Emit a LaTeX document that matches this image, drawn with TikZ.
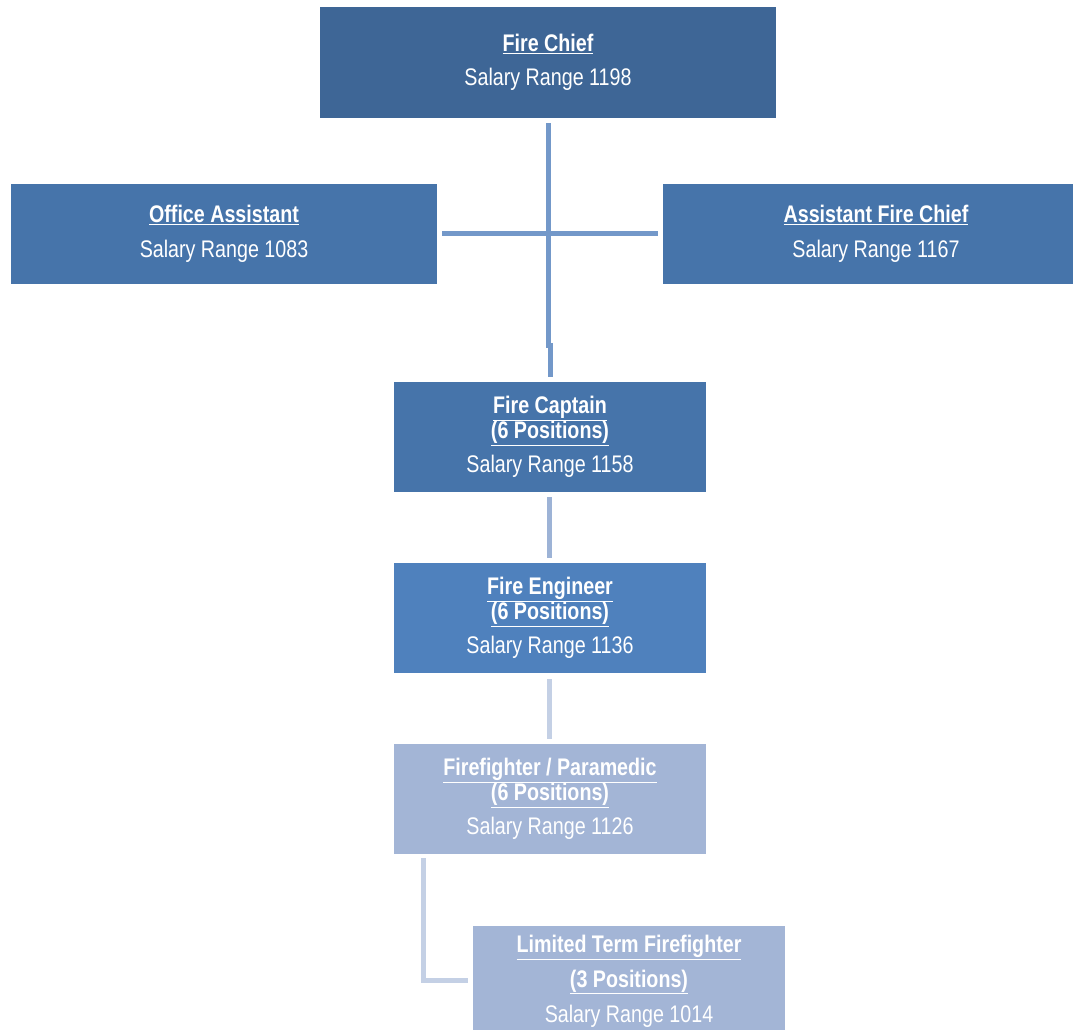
\documentclass[tikz,border=0pt]{standalone}
\usepackage{fontspec}
\setmainfont{Liberation Sans}[FakeStretch=0.82]
\usepackage{tikz}
\usetikzlibrary{calc}

\definecolor{chiefblue}{HTML}{3E6696}
\definecolor{midblue}{HTML}{4674AA}
\definecolor{engblue}{HTML}{4F81BD}
\definecolor{paleblue}{HTML}{A3B5D6}
\definecolor{lineA}{HTML}{7398C9}
\definecolor{lineB}{HTML}{9DB3D6}
\definecolor{lineC}{HTML}{C4D0E5}

\newcommand{\ttl}[1]{\textbf{\underline{#1}}}

\begin{document}
\begin{tikzpicture}[x=1pt,y=-1pt,
  box/.style={rectangle,inner sep=0pt,text=white,align=center,
    font=\fontsize{24}{25}\selectfont},
  link/.style={line width=5pt}]
				\useasboundingbox (0,0) rectangle (1073,1030);
				\clip (0,0) rectangle (1073,1030);
				
				\node[box,fill=chiefblue,minimum width=456pt,minimum height=111pt] (chief) at (548,62.5) {\ttl{Fire Chief}\\[9pt]Salary Range 1198};
				\node[box,fill=midblue,minimum width=426pt,minimum height=100pt] (office) at (224,234) {\ttl{Office Assistant}\\[10pt]Salary Range 1083};
				\node[box,fill=midblue,minimum width=426pt,minimum height=100pt] (asst) at (876,234) {\ttl{Assistant Fire Chief}\\[10pt]Salary Range 1167};
				\node[box,fill=midblue,minimum width=312pt,minimum height=110pt] (capt) at (550,437) {\ttl{Fire Captain}\\\ttl{(6 Positions)}\\[9pt]Salary Range 1158};
				\node[box,fill=engblue,minimum width=312pt,minimum height=110pt] (eng) at (550,618) {\ttl{Fire Engineer}\\\ttl{(6 Positions)}\\[9pt]Salary Range 1136};
				\node[box,fill=paleblue,minimum width=312pt,minimum height=110pt] (ff) at (550,799) {\ttl{Firefighter / Paramedic}\\\ttl{(6 Positions)}\\[9pt]Salary Range 1126};
				\node[box,fill=paleblue,minimum width=312pt,minimum height=110pt] (ltd) at (629,981) {\ttl{Limited Term Firefighter}\\[10pt]\ttl{(3 Positions)}\\[10pt]Salary Range 1014};
				
				\coordinate (bend) at (548,345);
				\draw[link,lineA] ($(chief.south)+(0,5)$)--(bend)--++(2,0)--($(capt.north)+(0,-5)$);
				\draw[link,lineA] ($(office.east)+(5,-1)$)--($(asst.west)+(-5,-1)$);
				\draw[link,lineB] ($(capt.south)+(-1,5)$)--($(eng.north)+(-1,-5)$);
				\draw[link,lineC] ($(eng.south)+(-1,6)$)--($(ff.north)+(-1,-5)$);
				\draw[link,lineC] (423,858)--(423,980)--($(ltd.west)+(-5,-1)$);
			\end{tikzpicture}
\end{document}
